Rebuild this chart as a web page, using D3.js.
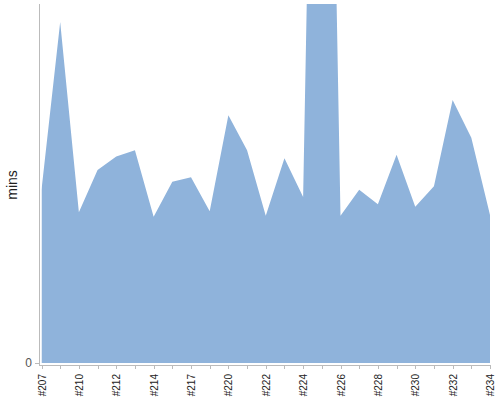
<!DOCTYPE html>
<html lang="en">
  <head>
    <meta charset="utf-8">
    <title>mins per build</title>
    <script src="https://d3js.org/d3.v7.min.js"></script>
    <style>
      body { margin: 0; background: #fff; }
      .axis path, .axis line { stroke: #bbb; shape-rendering: crispEdges; }
      .axis text { font-family: "Liberation Sans", Arial, sans-serif; }
    </style>
  </head>
  <body>
    <script>
      var w = 500;
      var h = 400;

      // builds along the x axis (only every second one is labelled)
      var builds = ["#207", "#208", "#210", "#211", "#212", "#213", "#214", "#215", "#217",
                    "#218", "#220", "#221", "#222", "#223", "#224", "#225", "#226", "#227",
                    "#228", "#229", "#230", "#231", "#232", "#233", "#234"];
      // duration of each build, minutes
      var mins = [19.3, 38.0, 16.8, 21.5, 23.0, 23.7, 16.3, 20.2, 20.7,
                  16.9, 27.6, 23.7, 16.4, 22.8, 18.5, 130, 16.4, 19.3,
                  17.7, 23.2, 17.4, 19.7, 29.3, 25.1, 16.5];
      var yMax = 40;
      var yTicks = [0];

      var pLeft = 41.5, pRight = 490, pTop = 4, pBottom = 363;

      var x = d3.scalePoint().domain(builds).range([pLeft, pRight]);
      var y = d3.scaleLinear().domain([0, yMax]).range([pBottom, pTop]);

      var svg = d3.select("body")
                  .append("svg")
                  .attr("width", w)
                  .attr("height", h);

      svg.append("clipPath")
         .attr("id", "plot")
         .append("rect")
         .attr("x", pLeft)
         .attr("y", pTop)
         .attr("width", pRight - pLeft)
         .attr("height", pBottom - pTop);

      var area = d3.area()
                   .x(function(d, i){ return x(builds[i]); })
                   .y0(y(0))
                   .y1(function(d){ return y(d); });

      svg.append("path")
         .datum(mins)
         .attr("clip-path", "url(#plot)")
         .attr("fill", "#8fb3db")
         .attr("d", area);

      // x axis, a tick for every build
      var xAxis = d3.axisBottom(x)
                    .tickSize(4)
                    .tickSizeOuter(0)
                    .tickFormat(function(d, i){ return i % 2 ? "" : d; });

      svg.append("g")
         .attr("class", "axis")
         .attr("transform", "translate(0," + (pBottom + 2) + ")")
         .call(xAxis)
         .call(function(g){ g.select(".domain").attr("d", "M39,0.5H" + pRight); })
         .selectAll("text")
           .attr("transform", "rotate(-90)")
           .attr("text-anchor", "end")
           .attr("x", -9)
           .attr("y", 0)
           .attr("dy", "0.35em")
           .attr("font-size", 10)
           .attr("fill", "#222");

      var yAxis = d3.axisLeft(y)
                    .tickValues(yTicks)
                    .tickSize(4)
                    .tickSizeOuter(0);

      svg.append("g")
         .attr("class", "axis")
         .attr("transform", "translate(39,0)")
         .call(yAxis)
         .call(function(g){ g.select(".domain").attr("d", "M0.5," + pTop + "V" + (pBottom + 2)); })
         .selectAll("text")
           .attr("font-size", 12)
           .attr("fill", "#555");

      svg.append("text")
         .attr("transform", "translate(17,185) rotate(-90)")
         .attr("text-anchor", "middle")
         .attr("font-family", "Liberation Sans, Arial, sans-serif")
         .attr("font-size", 14)
         .attr("fill", "#222")
         .text("mins");
    </script>
  </body>
</html>
